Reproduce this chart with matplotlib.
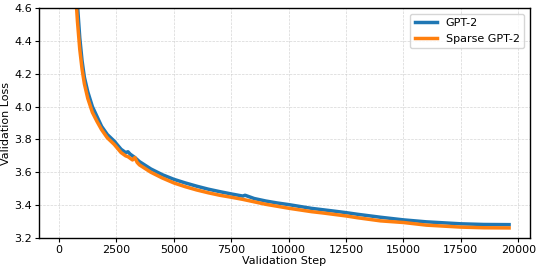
import matplotlib.pyplot as plt

# values
gpt2_steps = [600, 800, 900, 1000, 1100, 1250, 1450, 1650, 1850, 2100, 2400, 2700, 2900, 3000,
              3100, 3300, 3500, 4000, 4500, 5000, 5500, 6000, 6500, 7000, 7500, 8000, 8100,
              8500, 9000, 9500, 10000, 11000, 12000, 12500, 13000, 14000, 15000, 16000,
              17000, 17500, 18500, 19600]
gpt2_loss = [5.05, 4.62, 4.42, 4.28, 4.18, 4.09, 4.00, 3.94, 3.88, 3.83, 3.79, 3.74, 3.72, 3.725,
             3.71, 3.69, 3.665, 3.62, 3.585, 3.557, 3.535, 3.515, 3.497, 3.482, 3.468, 3.455, 3.46,
             3.44, 3.425, 3.413, 3.403, 3.38, 3.363, 3.354, 3.344, 3.326, 3.310, 3.298,
             3.290, 3.286, 3.282, 3.281]

sparse_steps = [600, 800, 900, 1000, 1100, 1250, 1450, 1650, 1850, 2100, 2400, 2700, 2900, 3000,
                3100, 3200, 3300, 3400, 3500, 4000, 4500, 5000, 5500, 6000, 6500, 7000, 7500,
                8000, 8500, 9000, 9500, 10000, 11000, 11500, 12000, 12500, 13000, 14000, 15000,
                16000, 17000, 17500, 18500, 19600]
sparse_loss = [4.95, 4.52, 4.35, 4.23, 4.14, 4.05, 3.965, 3.91, 3.86, 3.81, 3.77, 3.72, 3.70, 3.695,
               3.685, 3.675, 3.69, 3.66, 3.645, 3.60, 3.565, 3.535, 3.512, 3.492, 3.475, 3.46, 3.448,
               3.435, 3.42, 3.405, 3.393, 3.381, 3.36, 3.352, 3.343, 3.334, 3.323, 3.304, 3.294,
               3.278, 3.27, 3.266, 3.262, 3.261]

x_ticks = list(range(0, 20001, 2500))
y_ticks = [3.2, 3.4, 3.6, 3.8, 4.0, 4.2, 4.4, 4.6]

fig, ax = plt.subplots(figsize=(5.4, 2.71), dpi=100)
fig.subplots_adjust(left=0.072, right=0.981, top=0.970, bottom=0.122)

ax.plot(gpt2_steps, gpt2_loss, color='#1f77b4', lw=2.5, label='GPT-2')
ax.plot(sparse_steps, sparse_loss, color='#ff7f0e', lw=2.5, label='Sparse GPT-2')

ax.set_xlim(-880, 20500)
ax.set_ylim(3.2, 4.6)
ax.set_xticks(x_ticks)
ax.set_yticks(y_ticks)
ax.set_yticklabels([f'{v:.1f}' for v in y_ticks])
ax.tick_params(labelsize=8, length=3, pad=2)
ax.grid(True, linestyle='--', color='#cccccc', linewidth=0.5, alpha=0.8)

for s in ax.spines.values():
    s.set_linewidth(1.0)

ax.set_xlabel('Validation Step', fontsize=8, labelpad=1)
ax.set_ylabel('Validation Loss', fontsize=8, labelpad=2)
ax.legend(loc='upper right', fontsize=8)

fig.savefig('out.png', dpi=100)
